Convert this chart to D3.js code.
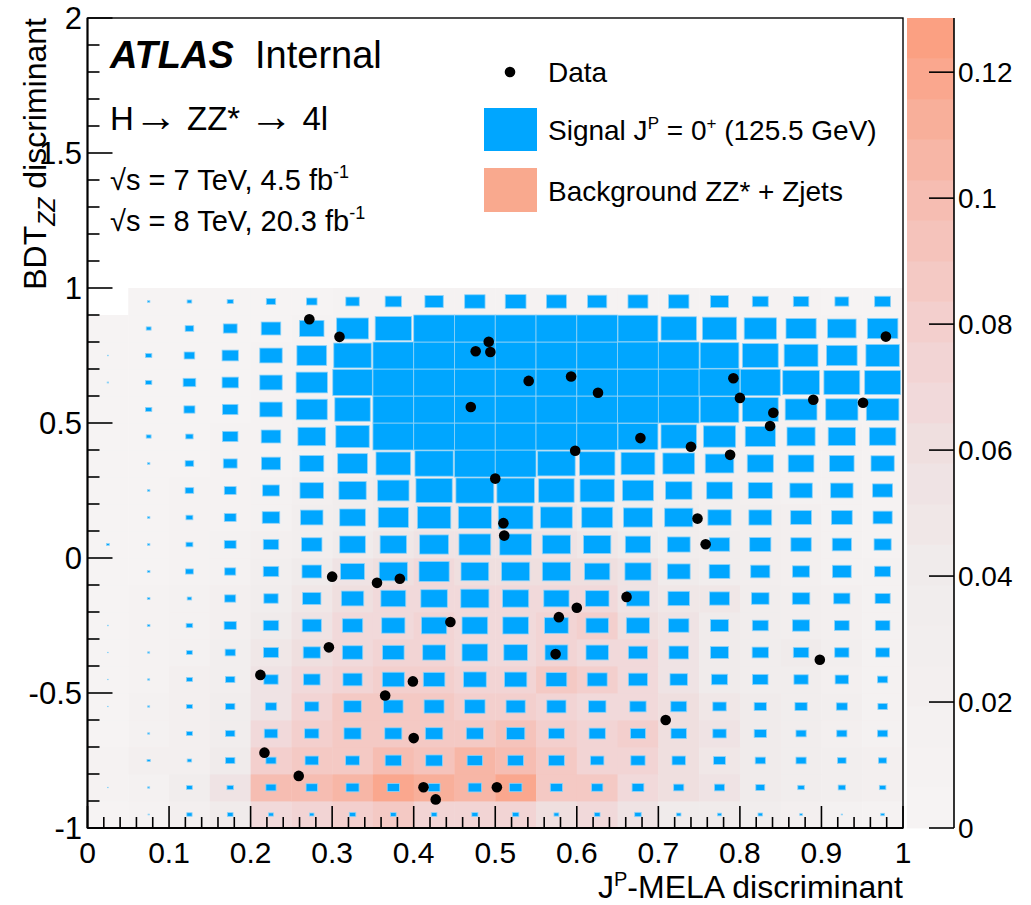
<!DOCTYPE html>
<html><head><meta charset="utf-8">
<script src="https://cdn.jsdelivr.net/npm/d3@7/dist/d3.min.js"></script>
<style>
body{margin:0;background:#fff}
text{font-family:"Liberation Sans",Arial,Helvetica,sans-serif;fill:#000}
</style>
</head><body>
<svg id="c" width="1031" height="905"></svg>
<script>
// ---------------- data ----------------
const xBinEdges = [0,0.05,0.1,0.15,0.2,0.25,0.3,0.35,0.4,0.45,0.5,0.55,0.6,0.65,0.7,0.75,0.8,0.85,0.9,0.95,1];
const yBinEdges = [-1,-0.9,-0.8,-0.7,-0.6,-0.5,-0.4,-0.3,-0.2,-0.1,0,0.1,0.2,0.3,0.4,0.5,0.6,0.7,0.8,0.9,1];

// background (ZZ* + Zjets) content per bin, rows from BDT=-1 upward, columns from MELA=0
const bgRows = [
 [.006,.012,.025,.04,.065,.075,.08,.085,.075,.075,.075,.06,.065,.055,.045,.04,.033,.025,.018,.012],
 [.01,.018,.035,.055,.1,.1,.108,.122,.112,.108,.118,.09,.085,.07,.06,.055,.045,.035,.028,.02],
 [.01,.022,.025,.04,.08,.085,.09,.1,.095,.105,.1,.085,.075,.075,.06,.05,.042,.035,.028,.022],
 [.006,.013,.025,.038,.065,.08,.085,.09,.085,.085,.095,.08,.075,.08,.06,.052,.042,.035,.025,.017],
 [.006,.013,.025,.033,.055,.075,.085,.088,.085,.08,.08,.075,.07,.065,.06,.05,.042,.035,.028,.017],
 [.005,.012,.02,.027,.055,.065,.075,.08,.08,.075,.075,.085,.08,.065,.055,.045,.038,.035,.025,.017],
 [.005,.01,.015,.027,.05,.06,.065,.075,.075,.07,.07,.075,.07,.065,.052,.044,.037,.04,.028,.017],
 [.004,.009,.013,.025,.042,.055,.065,.07,.075,.07,.07,.075,.078,.06,.052,.044,.037,.03,.024,.017],
 [.004,.008,.013,.021,.035,.05,.06,.065,.07,.065,.065,.07,.065,.055,.05,.048,.037,.03,.024,.017],
 [.003,.006,.01,.016,.028,.042,.055,.06,.065,.06,.06,.06,.06,.052,.044,.038,.032,.025,.018,.014],
 [.003,.005,.009,.014,.022,.032,.045,.05,.055,.055,.055,.052,.048,.042,.035,.033,.028,.022,.016,.012],
 [.003,.004,.008,.012,.018,.028,.038,.045,.048,.048,.048,.046,.042,.036,.033,.03,.026,.021,.016,.012],
 [.002,.004,.007,.01,.015,.024,.033,.04,.042,.042,.042,.04,.037,.033,.03,.027,.023,.019,.015,.01],
 [.002,.003,.005,.008,.012,.018,.024,.028,.03,.03,.03,.03,.03,.028,.025,.022,.02,.018,.014,.01],
 [.002,.003,.005,.007,.01,.015,.02,.024,.027,.027,.027,.027,.027,.025,.022,.02,.018,.016,.013,.01],
 [.002,.003,.004,.006,.009,.013,.018,.021,.024,.024,.024,.024,.024,.022,.02,.018,.016,.014,.012,.009],
 [.001,.002,.004,.005,.008,.011,.015,.018,.02,.02,.02,.02,.02,.019,.018,.016,.014,.012,.01,.008],
 [.001,.002,.003,.005,.007,.01,.013,.016,.018,.018,.018,.018,.018,.017,.016,.014,.012,.011,.009,.007],
 [.001,.002,.003,.004,.006,.008,.011,.013,.015,.015,.015,.015,.015,.014,.013,.012,.011,.01,.008,.006],
 [0,.001,.002,.003,.004,.006,.008,.01,.011,.011,.011,.011,.011,.011,.01,.009,.008,.007,.006,.005]
];

// signal J^P = 0+ content per bin (relative to box maximum), same layout
const sigRows = [
 [0,0.03,0.13,0.14,0.12,0.11,0.16,0.14,0.14,0.15,0.16,0.12,0.14,0.16,0.11,0.10,0.11,0.065,0.03,0.09],
 [0.015,0.05,0.14,0.16,0.25,0.28,0.32,0.30,0.29,0.33,0.31,0.30,0.28,0.29,0.25,0.25,0.22,0.16,0.18,0.16],
 [0,0.08,0.11,0.23,0.25,0.33,0.34,0.40,0.41,0.38,0.39,0.39,0.33,0.35,0.33,0.29,0.25,0.25,0.21,0.20],
 [0,0.05,0.15,0.23,0.33,0.35,0.42,0.42,0.43,0.42,0.45,0.39,0.40,0.37,0.38,0.33,0.30,0.25,0.25,0.25],
 [0.015,0.05,0.15,0.23,0.28,0.35,0.43,0.48,0.49,0.50,0.47,0.47,0.43,0.40,0.39,0.33,0.30,0.30,0.27,0.23],
 [0.015,0.05,0.15,0.23,0.35,0.41,0.47,0.54,0.53,0.56,0.55,0.51,0.49,0.47,0.43,0.39,0.38,0.35,0.33,0.25],
 [0.015,0.05,0.14,0.25,0.37,0.42,0.50,0.53,0.56,0.63,0.58,0.56,0.55,0.47,0.48,0.44,0.40,0.38,0.35,0.34],
 [0.02,0.065,0.16,0.30,0.38,0.47,0.50,0.57,0.62,0.63,0.63,0.58,0.55,0.57,0.50,0.44,0.39,0.42,0.36,0.36],
 [0,0.065,0.11,0.27,0.35,0.45,0.55,0.61,0.65,0.69,0.64,0.62,0.58,0.56,0.53,0.49,0.43,0.43,0.40,0.37],
 [0,0.065,0.19,0.27,0.38,0.48,0.59,0.69,0.74,0.68,0.69,0.69,0.62,0.64,0.56,0.51,0.47,0.42,0.46,0.39],
 [0.07,0.06,0.17,0.29,0.38,0.50,0.63,0.65,0.71,0.78,0.78,0.69,0.67,0.62,0.56,0.50,0.52,0.50,0.47,0.42],
 [0,0.06,0.17,0.29,0.43,0.55,0.63,0.74,0.82,0.81,0.85,0.78,0.76,0.71,0.69,0.57,0.56,0.51,0.51,0.47],
 [0,0.06,0.21,0.29,0.41,0.58,0.67,0.77,0.89,0.93,0.92,0.87,0.84,0.76,0.65,0.63,0.59,0.55,0.55,0.49],
 [0,0.06,0.21,0.34,0.47,0.59,0.73,0.85,0.94,1,1,0.92,0.87,0.83,0.78,0.70,0.64,0.63,0.60,0.57],
 [0,0.12,0.18,0.38,0.48,0.68,0.82,1,1,1,1,1,1,0.98,0.87,0.79,0.74,0.69,0.67,0.65],
 [0,0.155,0.27,0.38,0.55,0.76,0.87,1,1,1,1,1,1,1,1,0.95,0.88,0.78,0.79,0.80],
 [0.035,0.155,0.31,0.40,0.55,0.77,0.97,1,1,1,1,1,1,1,1,1,0.98,0.90,0.88,0.88],
 [0.02,0.155,0.26,0.40,0.55,0.73,0.92,1,1,1,1,1,1,1,1,0.95,0.88,0.83,0.75,0.82],
 [0,0.12,0.21,0.34,0.48,0.60,0.78,0.89,1,1,1,1,1,0.98,0.87,0.84,0.79,0.74,0.70,0.75],
 [0,0.06,0.115,0.15,0.23,0.26,0.33,0.40,0.45,0.50,0.51,0.49,0.47,0.49,0.50,0.44,0.39,0.38,0.34,0.39]
];

// data events
const dataX = [0.272,0.309,0.492,0.476,0.494,0.470,0.500,0.979,0.541,0.593,0.626,0.792,0.800,0.890,0.951,0.841,0.837,0.678,0.740,0.788,0.598,0.510,0.511,0.748,0.758,0.300,0.355,0.383,0.445,0.296,0.212,0.399,0.365,0.400,0.217,0.259,0.412,0.427,0.502,0.661,0.600,0.578,0.574,0.898,0.709];
const dataY = [0.884,0.819,0.801,0.766,0.763,0.559,0.294,0.820,0.656,0.672,0.612,0.666,0.593,0.586,0.575,0.538,0.489,0.444,0.412,0.382,0.397,0.129,0.083,0.146,0.051,-0.069,-0.092,-0.077,-0.237,-0.331,-0.433,-0.457,-0.509,-0.667,-0.721,-0.807,-0.849,-0.894,-0.849,-0.144,-0.184,-0.219,-0.356,-0.377,-0.600];

const xTicks = [0,0.1,0.2,0.3,0.4,0.5,0.6,0.7,0.8,0.9,1];
const xTickLabels = ["0","0.1","0.2","0.3","0.4","0.5","0.6","0.7","0.8","0.9","1"];
const yTicks = [-1,-0.5,0,0.5,1,1.5,2];
const yTickLabels = ["-1","-0.5","0","0.5","1","1.5","2"];
const zTicks = [0,0.02,0.04,0.06,0.08,0.1,0.12];
const zTickLabels = ["0","0.02","0.04","0.06","0.08","0.1","0.12"];
const zMax = 0.1286;
const nContours = 20;

// ---------------- drawing ----------------
const svg = d3.select("#c");
const x = d3.scaleLinear().domain([0,1]).range([87.5,903]);
const y = d3.scaleLinear().domain([-1,2]).range([828,18]);
const z = d3.scaleLinear().domain([0,zMax]).range([828,18]);
const pal = d3.scaleLinear()
  .domain([0,0.3,0.45,0.6,0.8,1])
  .range(["rgb(246,243,243)","rgb(240,236,236)","rgb(239,225,226)","rgb(242,210,210)","rgb(246,188,176)","rgb(251,160,130)"])
  .interpolate(d3.interpolateRgb);
const levelColor = k => pal(k/(nContours-1));
const levelOf = v => Math.min(nContours-1, Math.floor(v/zMax*nContours));

// background colz
const cells = [];
bgRows.forEach((row,j)=>row.forEach((v,i)=>cells.push({i,j,v,s:sigRows[j][i]})));
svg.append("g").selectAll("rect").data(cells.filter(d=>d.v>0)).join("rect")
  .attr("x",d=>x(xBinEdges[d.i]))
  .attr("y",d=>y(yBinEdges[d.j+1]))
  .attr("width",d=>x(xBinEdges[d.i+1])-x(xBinEdges[d.i])+0.4)
  .attr("height",d=>y(yBinEdges[d.j])-y(yBinEdges[d.j+1])+0.4)
  .attr("fill",d=>levelColor(levelOf(d.v)));

// signal boxes
svg.append("g").selectAll("rect").data(cells.filter(d=>d.s>0)).join("rect")
  .each(function(d){
    const x0=x(xBinEdges[d.i]), x1=x(xBinEdges[d.i+1]);
    const y1=y(yBinEdges[d.j]), y0=y(yBinEdges[d.j+1]);
    const f=Math.min(1,d.s);
    const w=(x1-x0)*f, h=(y1-y0)*f;
    d3.select(this).attr("x",(x0+x1)/2-w/2).attr("y",(y0+y1)/2-h/2)
      .attr("width",w).attr("height",h);
  })
  .attr("fill","#00a6ff").attr("stroke","#8fd3f7").attr("stroke-width",0.8);

// data points
svg.append("g").selectAll("circle").data(dataX.map((v,k)=>[v,dataY[k]])).join("circle")
  .attr("cx",d=>x(d[0])).attr("cy",d=>y(d[1])).attr("r",5.3).attr("fill","#000");

// frame
svg.append("rect").attr("x",x(0)).attr("y",y(2)).attr("width",x(1)-x(0)).attr("height",y(-1)-y(2))
  .attr("fill","none").attr("stroke","#000").attr("stroke-width",1.4);

const ax = svg.append("g").attr("stroke","#000").attr("stroke-width",1.6);
// x axis
ax.append("line").attr("x1",x(0)).attr("x2",x(1)).attr("y1",y(-1)).attr("y2",y(-1)).attr("stroke-width",2);
d3.range(0,51).map(k=>k*0.02).forEach(v=>{
  const major = Math.abs(v*10-Math.round(v*10))<1e-6;
  ax.append("line").attr("x1",x(v)).attr("x2",x(v)).attr("y1",y(-1)).attr("y2",y(-1)-(major?22:11));
});
// y axis
ax.append("line").attr("x1",x(0)).attr("x2",x(0)).attr("y1",y(-1)).attr("y2",y(2)).attr("stroke-width",2);
d3.range(0,31).map(k=>-1+k*0.1).forEach(v=>{
  const major = Math.abs(v*2-Math.round(v*2))<1e-6;
  ax.append("line").attr("x1",x(0)).attr("x2",x(0)+(major?25:12)).attr("y1",y(v)).attr("y2",y(v));
});

const T = svg.append("g");
xTicks.forEach((v,k)=>T.append("text").attr("x",x(v)).attr("y",863).attr("text-anchor","middle")
  .attr("font-size",30).text(xTickLabels[k]));
yTicks.forEach((v,k)=>T.append("text").attr("x",82).attr("y",y(v)+11).attr("text-anchor","end")
  .attr("font-size",31).text(yTickLabels[k]));

// axis titles
const xt = T.append("text").attr("x",903).attr("y",898).attr("text-anchor","end").attr("font-size",32);
xt.append("tspan").text("J");
xt.append("tspan").attr("dy",-12).attr("font-size",20).text("P");
xt.append("tspan").attr("dy",12).text("-MELA discriminant");

const yt = T.append("text").attr("transform","translate(46,18) rotate(-90)").attr("text-anchor","end").attr("font-size",32);
yt.append("tspan").text("BDT");
yt.append("tspan").attr("dy",9).attr("font-size",23).attr("font-style","italic").text("ZZ");
yt.append("tspan").attr("dy",-9).text(" discriminant");

// ATLAS labels
const a = T.append("text").attr("x",110).attr("y",68).attr("font-size",38);
a.append("tspan").attr("font-weight","bold").attr("font-style","italic").text("ATLAS");
T.append("text").attr("x",255).attr("y",68).attr("font-size",38).text("Internal");
const hz = T.append("text").attr("x",110).attr("y",130).attr("font-size",33);
hz.append("tspan").text("H");
hz.append("tspan").attr("font-size",44).attr("dy",1).text("\u2192");
hz.append("tspan").attr("dy",-1).text(" ZZ* ");
hz.append("tspan").attr("font-size",44).attr("dy",1).text("\u2192");
hz.append("tspan").attr("dy",-1).text(" 4l");
[["7","4.5",190],["8","20.3",231]].forEach(r=>{
  const t=T.append("text").attr("x",110).attr("y",r[2]).attr("font-size",29);
  t.append("tspan").text("\u221As = "+r[0]+" TeV, "+r[1]+" fb");
  t.append("tspan").attr("dy",-12).attr("font-size",18).text("-1");
});

// legend
T.append("circle").attr("cx",510).attr("cy",72).attr("r",5.3).attr("fill","#000");
T.append("text").attr("x",548).attr("y",82).attr("font-size",28).text("Data");
T.append("rect").attr("x",484).attr("y",108).attr("width",53).attr("height",43).attr("fill","#00a6ff");
const sl = T.append("text").attr("x",548).attr("y",140).attr("font-size",28);
sl.append("tspan").text("Signal J");
sl.append("tspan").attr("dy",-11).attr("font-size",17).text("P");
sl.append("tspan").attr("dy",11).text(" = 0");
sl.append("tspan").attr("dy",-11).attr("font-size",17).text("+");
sl.append("tspan").attr("dy",11).text(" (125.5 GeV)");
T.append("rect").attr("x",484).attr("y",168).attr("width",53).attr("height",44).attr("fill","#f9a98e");
T.append("text").attr("x",548).attr("y",201).attr("font-size",28).text("Background ZZ* + Zjets");

// colour bar
const cb = svg.append("g");
d3.range(nContours).forEach(k=>{
  cb.append("rect").attr("x",907).attr("width",47)
    .attr("y",z((k+1)*zMax/nContours)).attr("height",z(k*zMax/nContours)-z((k+1)*zMax/nContours)+0.4)
    .attr("fill",levelColor(k));
});
cb.append("line").attr("x1",954).attr("x2",954).attr("y1",z(0)).attr("y2",z(zMax)).attr("stroke","#000").attr("stroke-width",1.6);
zTicks.forEach((v,k)=>{
  cb.append("line").attr("x1",929).attr("x2",954).attr("y1",z(v)).attr("y2",z(v)).attr("stroke","#000").attr("stroke-width",1.6);
  cb.append("text").attr("x",958).attr("y",z(v)+10).attr("font-size",28).text(zTickLabels[k]);
});
</script>
</body></html>
